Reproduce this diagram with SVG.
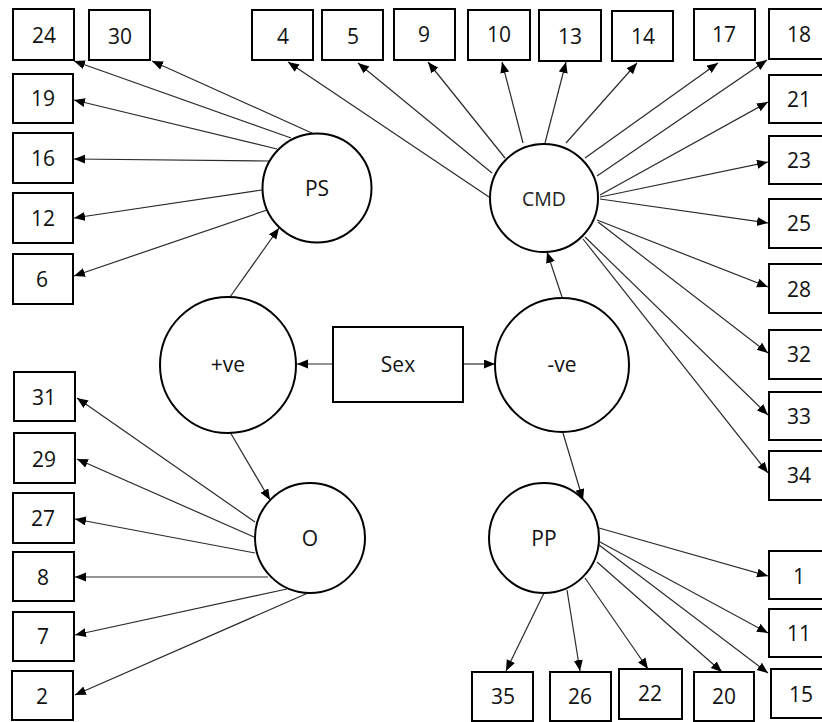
<svg xmlns="http://www.w3.org/2000/svg" width="822" height="722" viewBox="0 0 822 722">
  <style>
    .box { fill: #fff; stroke: #000; stroke-width: 2; }
    .lat { fill: #fff; stroke: #000; stroke-width: 2; }
    .lbl { font-family: "Open Sans", "Noto Sans", sans-serif; font-size: 21px; fill: #111; text-anchor: middle; }
    .lbl.small { font-size: 19.5px; fill: #222; }
    #connectors line { stroke: #2a2a2a; stroke-width: 1.2; marker-end: url(#arrow); }
  </style>
  <defs>
    <marker id="arrow" markerUnits="userSpaceOnUse" markerWidth="12" markerHeight="10" refX="11" refY="4.5" orient="auto">
      <path d="M0,0 L11,4.5 L0,9 z" fill="#000"/>
    </marker>
  </defs>
  <rect width="822" height="722" fill="#fff"/>

  <!-- paths from the latent factors to their items -->
  <g id="connectors">
    <!-- PS -->
    <line x1="291" y1="138" x2="74" y2="61"/>
    <line x1="314" y1="134" x2="152" y2="61"/>
    <line x1="277" y1="149" x2="74" y2="100"/>
    <line x1="269" y1="161" x2="74" y2="159"/>
    <line x1="262" y1="190" x2="74" y2="218"/>
    <line x1="267" y1="210" x2="74" y2="276"/>
    <line x1="230" y1="297" x2="279" y2="228"/>
    <!-- CMD -->
    <line x1="489" y1="197" x2="288" y2="62"/>
    <line x1="492" y1="173" x2="358" y2="63"/>
    <line x1="505" y1="158" x2="428" y2="62"/>
    <line x1="523" y1="143" x2="502" y2="62"/>
    <line x1="545" y1="143" x2="566" y2="62"/>
    <line x1="566" y1="143" x2="637" y2="63"/>
    <line x1="585" y1="158" x2="718" y2="63"/>
    <line x1="597" y1="176" x2="767" y2="60"/>
    <line x1="600" y1="195" x2="768" y2="102"/>
    <line x1="600" y1="197" x2="768" y2="162"/>
    <line x1="600" y1="199" x2="768" y2="223"/>
    <line x1="597" y1="220" x2="768" y2="287"/>
    <line x1="598" y1="222" x2="768" y2="353"/>
    <line x1="585" y1="237" x2="768" y2="415"/>
    <line x1="583" y1="239" x2="768" y2="473"/>
    <!-- Sex and the two pathways -->
    <line x1="562" y1="297" x2="547" y2="252"/>
    <line x1="563" y1="433" x2="583" y2="500"/>
    <line x1="463" y1="364" x2="495" y2="364"/>
    <line x1="333" y1="364" x2="297" y2="364"/>
    <line x1="230" y1="432" x2="270" y2="500"/>
    <!-- PP -->
    <line x1="599" y1="528" x2="768" y2="576"/>
    <line x1="600" y1="542" x2="768" y2="633"/>
    <line x1="599" y1="545" x2="768" y2="673"/>
    <line x1="597" y1="562" x2="722" y2="672"/>
    <line x1="585" y1="578" x2="648" y2="669"/>
    <line x1="567" y1="590" x2="580" y2="671"/>
    <line x1="544" y1="593" x2="506" y2="671"/>
    <!-- O -->
    <line x1="255" y1="522" x2="77" y2="398"/>
    <line x1="254" y1="537" x2="77" y2="459"/>
    <line x1="255" y1="553" x2="75" y2="519"/>
    <line x1="268" y1="577" x2="75" y2="577"/>
    <line x1="287" y1="589" x2="75" y2="635"/>
    <line x1="308" y1="593" x2="75" y2="695"/>
  </g>

  <!-- latent factors -->
  <g id="PS"><circle class="lat" cx="317" cy="188" r="54.5"/><text class="lbl" x="317" y="196">PS</text></g>
  <g id="CMD"><circle class="lat" cx="544" cy="198" r="54"/><text class="lbl small" x="544" y="206">CMD</text></g>
  <g id="pos"><circle class="lat" cx="228" cy="365" r="68"/><text class="lbl" x="228" y="372">+ve</text></g>
  <g id="neg"><circle class="lat" cx="562" cy="365" r="67"/><text class="lbl" x="562" y="372">-ve</text></g>
  <g id="O"><circle class="lat" cx="310" cy="538" r="55"/><text class="lbl" x="310" y="546">O</text></g>
  <g id="PP"><circle class="lat" cx="544" cy="538" r="55"/><text class="lbl" x="544" y="546">PP</text></g>
  <g id="Sex"><rect class="box" x="333" y="327" width="130" height="75"/><text class="lbl" x="398" y="372">Sex</text></g>

  <!-- observed items -->
  <g id="i24"><rect class="box" x="13" y="9" width="61" height="51"/><text class="lbl" x="44" y="43">24</text></g>
  <g id="i30"><rect class="box" x="89" y="10" width="61" height="50"/><text class="lbl" x="120" y="44">30</text></g>
  <g id="i4"><rect class="box" x="252" y="10" width="61" height="50"/><text class="lbl" x="283" y="44">4</text></g>
  <g id="i5"><rect class="box" x="322" y="10" width="61" height="50"/><text class="lbl" x="353" y="44">5</text></g>
  <g id="i9"><rect class="box" x="394" y="9" width="61" height="51"/><text class="lbl" x="424" y="42">9</text></g>
  <g id="i10"><rect class="box" x="468" y="10" width="62" height="50"/><text class="lbl" x="499" y="42">10</text></g>
  <g id="i13"><rect class="box" x="539" y="10" width="62" height="51"/><text class="lbl" x="570" y="44">13</text></g>
  <g id="i14"><rect class="box" x="612" y="11" width="61" height="50"/><text class="lbl" x="643" y="44">14</text></g>
  <g id="i17"><rect class="box" x="694" y="9" width="61" height="51"/><text class="lbl" x="724" y="42">17</text></g>
  <g id="i18"><rect class="box" x="769" y="9" width="61" height="50"/><text class="lbl" x="799" y="42">18</text></g>
  <g id="i21"><rect class="box" x="769" y="75" width="61" height="48"/><text class="lbl" x="799" y="107">21</text></g>
  <g id="i23"><rect class="box" x="769" y="136" width="61" height="48"/><text class="lbl" x="799" y="168">23</text></g>
  <g id="i25"><rect class="box" x="769" y="199" width="61" height="49"/><text class="lbl" x="799" y="231">25</text></g>
  <g id="i28"><rect class="box" x="769" y="264" width="61" height="49"/><text class="lbl" x="799" y="297">28</text></g>
  <g id="i32"><rect class="box" x="769" y="330" width="61" height="49"/><text class="lbl" x="799" y="362">32</text></g>
  <g id="i33"><rect class="box" x="769" y="392" width="61" height="48"/><text class="lbl" x="799" y="424">33</text></g>
  <g id="i34"><rect class="box" x="769" y="451" width="61" height="49"/><text class="lbl" x="799" y="483">34</text></g>
  <g id="i1"><rect class="box" x="769" y="551" width="61" height="48"/><text class="lbl" x="799" y="584">1</text></g>
  <g id="i11"><rect class="box" x="769" y="609" width="61" height="48"/><text class="lbl" x="799" y="641">11</text></g>
  <g id="i15"><rect class="box" x="771" y="669" width="61" height="49"/><text class="lbl" x="801" y="702">15</text></g>
  <g id="i20"><rect class="box" x="694" y="672" width="60" height="49"/><text class="lbl" x="724" y="704">20</text></g>
  <g id="i22"><rect class="box" x="619" y="669" width="63" height="50"/><text class="lbl" x="650" y="701">22</text></g>
  <g id="i26"><rect class="box" x="550" y="672" width="61" height="49"/><text class="lbl" x="580" y="704">26</text></g>
  <g id="i35"><rect class="box" x="472" y="672" width="61" height="49"/><text class="lbl" x="503" y="704">35</text></g>
  <g id="i19"><rect class="box" x="13" y="74" width="60" height="49"/><text class="lbl" x="43" y="106">19</text></g>
  <g id="i16"><rect class="box" x="13" y="133" width="60" height="50"/><text class="lbl" x="43" y="166">16</text></g>
  <g id="i12"><rect class="box" x="13" y="193" width="60" height="50"/><text class="lbl" x="43" y="226">12</text></g>
  <g id="i6"><rect class="box" x="13" y="254" width="60" height="50"/><text class="lbl" x="42" y="287">6</text></g>
  <g id="i31"><rect class="box" x="14" y="372" width="61" height="49"/><text class="lbl" x="44" y="405">31</text></g>
  <g id="i29"><rect class="box" x="14" y="433" width="61" height="50"/><text class="lbl" x="44" y="467">29</text></g>
  <g id="i27"><rect class="box" x="13" y="493" width="61" height="50"/><text class="lbl" x="43" y="526">27</text></g>
  <g id="i8"><rect class="box" x="13" y="552" width="61" height="49"/><text class="lbl" x="43" y="585">8</text></g>
  <g id="i7"><rect class="box" x="13" y="612" width="61" height="49"/><text class="lbl" x="43" y="644">7</text></g>
  <g id="i2"><rect class="box" x="12" y="671" width="61" height="49"/><text class="lbl" x="42" y="704">2</text></g>
</svg>
